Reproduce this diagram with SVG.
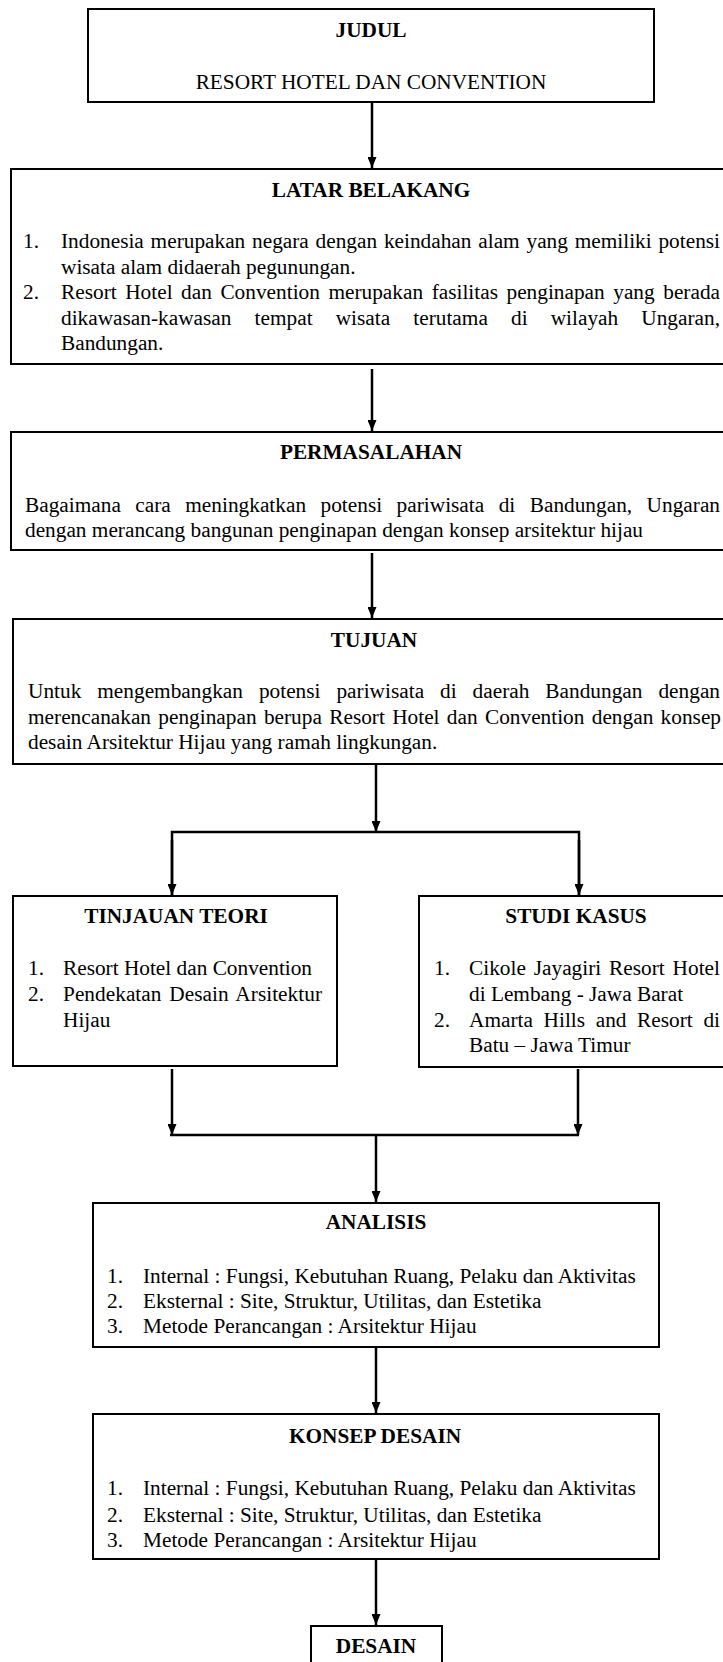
<svg xmlns="http://www.w3.org/2000/svg" width="723" height="1662" viewBox="0 0 723 1662">
<style>
.box{fill:#fff;stroke:#000;stroke-width:2}
.t{font-family:"Liberation Serif","Times New Roman",serif;font-size:21.3px;font-weight:bold;fill:#000;text-anchor:middle}
.b{font-family:"Liberation Serif","Times New Roman",serif;font-size:21.3px;fill:#000}
.c{fill:none;stroke:#000;stroke-width:2.5}
</style>
<defs>
<marker id="ah" viewBox="0 0 11 9" markerWidth="11" markerHeight="9" refX="11" refY="4.5" orient="auto" markerUnits="userSpaceOnUse">
<path d="M0,0 L11,4.5 L0,9 z" fill="#000"/>
</marker>
</defs>
<rect x="0" y="0" width="723" height="1662" fill="#fff"/>

<g id="connectors">
<line class="c" x1="372" y1="102" x2="372" y2="168" marker-end="url(#ah)"/>
<line class="c" x1="372" y1="369" x2="372" y2="431" marker-end="url(#ah)"/>
<line class="c" x1="372" y1="553" x2="372" y2="618" marker-end="url(#ah)"/>
<line class="c" x1="376" y1="765" x2="376" y2="832" marker-end="url(#ah)"/>
<polyline class="c" points="172,895 172,832 579,832 579,895"/>
<line class="c" x1="172" y1="840" x2="172" y2="895" marker-end="url(#ah)"/>
<line class="c" x1="579" y1="840" x2="579" y2="895" marker-end="url(#ah)"/>
<line class="c" x1="172" y1="1069" x2="172" y2="1135" marker-end="url(#ah)"/>
<line class="c" x1="578" y1="1069" x2="578" y2="1135" marker-end="url(#ah)"/>
<line class="c" x1="170" y1="1135" x2="579" y2="1135"/>
<line class="c" x1="376" y1="1135" x2="376" y2="1202" marker-end="url(#ah)"/>
<line class="c" x1="376" y1="1348" x2="376" y2="1413" marker-end="url(#ah)"/>
<line class="c" x1="376" y1="1560" x2="376" y2="1625" marker-end="url(#ah)"/>
</g>

<g id="judul">
<rect class="box" x="88" y="9" width="566" height="93"/>
<text class="t" x="371" y="37">JUDUL</text>
<text class="b" x="371" y="89" text-anchor="middle">RESORT HOTEL  DAN CONVENTION</text>
</g>

<g id="latar-belakang">
<rect class="box" x="11" y="169" width="740" height="195"/>
<text class="t" x="371" y="197">LATAR BELAKANG</text>
<text class="b" x="23" y="248">1.</text>
<text class="b" x="61" y="248" word-spacing="1.5" textLength="659" lengthAdjust="spacing">Indonesia merupakan negara dengan keindahan alam yang memiliki potensi</text>
<text class="b" x="61" y="273.6">wisata alam didaerah pegunungan.</text>
<text class="b" x="23" y="299.2">2.</text>
<text class="b" x="61" y="299.2" word-spacing="3.2" textLength="659" lengthAdjust="spacing">Resort Hotel dan Convention merupakan fasilitas penginapan yang berada</text>
<text class="b" x="61" y="324.8" word-spacing="17.8" textLength="659" lengthAdjust="spacing">dikawasan-kawasan tempat wisata terutama di wilayah Ungaran,</text>
<text class="b" x="61" y="350.4">Bandungan.</text>
</g>

<g id="permasalahan">
<rect class="box" x="11" y="432" width="740" height="118"/>
<text class="t" x="371" y="459">PERMASALAHAN</text>
<text class="b" x="25" y="511.7" word-spacing="9.1" textLength="695" lengthAdjust="spacing">Bagaimana cara meningkatkan potensi pariwisata di Bandungan, Ungaran</text>
<text class="b" x="25" y="536.7">dengan merancang bangunan penginapan dengan konsep arsitektur hijau</text>
</g>

<g id="tujuan">
<rect class="box" x="13" y="619" width="740" height="145"/>
<text class="t" x="374" y="647">TUJUAN</text>
<text class="b" x="28" y="698.3" word-spacing="10.6" textLength="692" lengthAdjust="spacing">Untuk mengembangkan potensi pariwisata di daerah Bandungan dengan</text>
<text class="b" x="28" y="724" word-spacing="2" textLength="693" lengthAdjust="spacing">merencanakan penginapan berupa Resort Hotel dan Convention dengan konsep</text>
<text class="b" x="28" y="749.3">desain Arsitektur Hijau  yang ramah lingkungan.</text>
</g>

<g id="tinjauan-teori">
<rect class="box" x="13" y="896" width="324" height="170"/>
<text class="t" x="176" y="923">TINJAUAN TEORI</text>
<text class="b" x="28" y="975">1.</text>
<text class="b" x="63" y="975">Resort Hotel  dan Convention</text>
<text class="b" x="28" y="1000.7">2.</text>
<text class="b" x="63" y="1000.7" word-spacing="2.5" textLength="259" lengthAdjust="spacing">Pendekatan Desain Arsitektur</text>
<text class="b" x="63" y="1026.7">Hijau</text>
</g>

<g id="studi-kasus">
<rect class="box" x="419" y="896" width="400" height="171"/>
<text class="t" x="576" y="923">STUDI KASUS</text>
<text class="b" x="434" y="975">1.</text>
<text class="b" x="469" y="975" word-spacing="2.5" textLength="251" lengthAdjust="spacing">Cikole Jayagiri Resort Hotel</text>
<text class="b" x="469" y="1000.7">di Lembang - Jawa Barat</text>
<text class="b" x="434" y="1026.7">2.</text>
<text class="b" x="469" y="1026.7" word-spacing="5.3" textLength="251" lengthAdjust="spacing">Amarta Hills and Resort di</text>
<text class="b" x="469" y="1051.7">Batu – Jawa Timur</text>
</g>

<g id="analisis">
<rect class="box" x="93" y="1203" width="566" height="144"/>
<text class="t" x="376" y="1229">ANALISIS</text>
<text class="b" x="107" y="1282.7">1.</text>
<text class="b" x="143" y="1282.7">Internal : Fungsi, Kebutuhan Ruang, Pelaku dan Aktivitas</text>
<text class="b" x="107" y="1308.3">2.</text>
<text class="b" x="143" y="1308.3">Eksternal : Site, Struktur, Utilitas,  dan Estetika</text>
<text class="b" x="107" y="1333.3">3.</text>
<text class="b" x="143" y="1333.3">Metode Perancangan : Arsitektur Hijau</text>
</g>

<g id="konsep-desain">
<rect class="box" x="93" y="1414" width="566" height="145"/>
<text class="t" x="375" y="1443">KONSEP DESAIN</text>
<text class="b" x="107" y="1495">1.</text>
<text class="b" x="143" y="1495">Internal : Fungsi, Kebutuhan Ruang, Pelaku dan Aktivitas</text>
<text class="b" x="107" y="1521.7">2.</text>
<text class="b" x="143" y="1521.7">Eksternal : Site, Struktur, Utilitas,  dan Estetika</text>
<text class="b" x="107" y="1546.7">3.</text>
<text class="b" x="143" y="1546.7">Metode Perancangan : Arsitektur Hijau</text>
</g>

<g id="desain">
<rect class="box" x="311" y="1626" width="131" height="60"/>
<text class="t" x="376" y="1653">DESAIN</text>
</g>
</svg>
